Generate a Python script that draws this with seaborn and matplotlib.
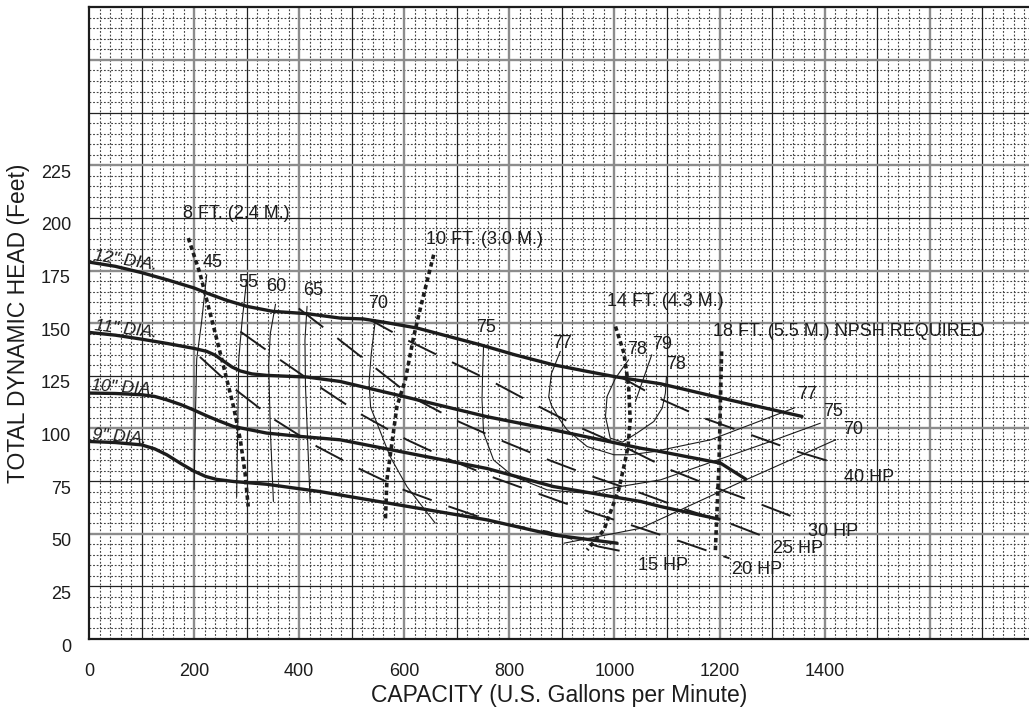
import numpy as np
import matplotlib
matplotlib.use("Agg")
import matplotlib.pyplot as plt
import matplotlib.transforms as mtrans
import seaborn as sns

# ---------------- data ----------------
# impeller diameter head curves: capacity (gpm) / head (ft)
dia12_gpm = [0, 50, 100, 150, 200, 224, 260, 300, 350, 415, 478, 522, 560, 624, 680, 745, 810, 884, 950, 1005, 1088, 1204, 1357]
dia12_ft = [179, 177, 174, 170.5, 166.7, 164.3, 161, 158, 155.6, 154.5, 152.4, 152, 150.5, 147.7, 144, 139.7, 135, 130.2, 127, 124.4, 121.2, 114.4, 105.7]
dia11_gpm = [0, 50, 100, 150, 200, 224, 240, 256, 272, 288, 310, 338, 415, 478, 598, 757, 884, 1050, 1088, 1202, 1250]
dia11_ft = [145.6, 144.3, 142.4, 140.3, 138, 136.6, 134.8, 132, 129.2, 127.3, 125.9, 125.2, 124.4, 122.3, 115.2, 105.6, 99.3, 90.6, 89, 83.5, 75.9]
dia10_gpm = [0, 50, 100, 125, 148, 175, 199, 222, 243, 275, 338, 402, 478, 757, 884, 1050, 1088, 1199]
dia10_ft = [116.8, 116.6, 116, 115.2, 113.6, 111.3, 108.8, 106.2, 104, 100.9, 97.8, 96.2, 94.6, 81, 72.4, 65.3, 62.9, 56.9]
dia9_gpm = [0, 50, 100, 125, 148, 175, 199, 222, 243, 275, 338, 440, 478, 757, 884, 1005]
dia9_ft = [93.8, 93.3, 92.2, 90.3, 87.5, 83.3, 79.8, 77.2, 75.8, 74.8, 73.5, 70, 68.4, 56.6, 49.4, 45.5]
dia_labels = ['12" DIA.', '11" DIA.', '10" DIA.', '9" DIA.']
dia_label_gpm = [70, 70, 65, 58]
dia_label_ft = [179.5, 147.2, 119.5, 95.9]

# horsepower lines
hp15_gpm = [211, 281, 354, 434, 513, 599, 684, 772, 872, 970, 1018]
hp15_ft = [134, 118, 104, 91.4, 81, 70.8, 63, 55.5, 51, 43.9, 41.5]
hp20_gpm = [288, 367, 440, 519, 605, 688, 773, 862, 951, 1040, 1126, 1219]
hp20_ft = [146, 132, 119.5, 106.5, 94.6, 85, 76.4, 68.4, 60.5, 53.4, 46.3, 38.3]
hp25_gpm = [399, 472, 545, 618, 703, 789, 875, 960, 1050, 1138, 1227, 1284]
hp25_ft = [157, 143, 128.7, 114.4, 103.3, 93.8, 85, 77, 69.3, 61.3, 54.2, 48.7]
hp30_gpm = [535, 605, 688, 773, 856, 938, 1024, 1107, 1195, 1281, 1338]
hp30_ft = [151.6, 142, 131.8, 121.5, 110.4, 100, 90.6, 80.3, 71.6, 63.7, 58.2]
hp40_gpm = [1015, 1084, 1170, 1259, 1348, 1405]
hp40_ft = [124, 114.4, 104.9, 97, 89, 84.7]
hp_labels = ["15 HP", "20 HP", "25 HP", "30 HP", "40 HP"]
hp_label_gpm = [1093, 1272, 1350, 1416, 1484]
hp_label_ft = [34.7, 33.1, 43.1, 51, 76.9]

# efficiency curves (%)
eff45_gpm = [224, 214, 205, 202, 200]
eff45_ft = [173, 150, 133, 100, 71]
eff55_gpm = [300, 291, 285, 283, 281]
eff55_ft = [170.6, 150, 133, 100, 67.6]
eff60_gpm = [355, 345, 342, 345, 351]
eff60_ft = [159, 145, 130, 100, 65.3]
eff65_gpm = [415, 411, 412, 416, 421]
eff65_ft = [158, 142, 120, 95, 64.6]
eff70a_gpm = [545, 537, 533, 536, 548, 573, 605, 659]
eff70a_ft = [151.6, 135, 122, 110, 102.5, 86.7, 72.4, 55]
eff70b_gpm = [904, 1050, 1233, 1421]
eff70b_ft = [45.5, 52.6, 73.7, 94.6]
eff75_gpm = [751, 749, 748, 751, 770, 808, 872, 948, 1011, 1050, 1088, 1297, 1392]
eff75_ft = [139.7, 125, 113.6, 97.8, 85, 77.2, 70.8, 69.2, 72.4, 74, 75.6, 93.8, 102.5]
eff77_gpm = [897, 880, 875, 880, 895, 910, 948, 999, 1030, 1075, 1183, 1342]
eff77_ft = [136.6, 126, 115, 111, 104.5, 99.3, 91.4, 87.5, 87.5, 89, 94.6, 109.7]
eff78_gpm = [1027, 1002, 986, 983, 992, 1015, 1043, 1075, 1091, 1097, 1099]
eff78_ft = [132.6, 123.9, 115.2, 105.6, 95.4, 93.5, 97.8, 103.3, 109.7, 116.8, 124.7]
eff79_gpm = [1071, 1040]
eff79_ft = [135, 112.8]
eff_labels = ["45", "55", "60", "65", "70", "75", "77", "78", "79", "78", "77", "75", "70"]
eff_label_gpm = [236, 303, 357, 426, 551, 756, 900, 1043, 1090, 1117, 1366, 1417, 1455]
eff_label_ft = [178.9, 169.3, 167.4, 165.5, 159.5, 147.7, 140.5, 137.4, 139.7, 130.2, 116, 108, 99.3]

# NPSH required lines
npsh8_gpm = [189, 211, 237, 253, 275, 288, 297, 303]
npsh8_ft = [190.4, 173.8, 148.4, 132.6, 110.4, 94.6, 78.8, 62.9]
npsh10_gpm = [656, 633, 618, 602, 586, 567, 564]
npsh10_ft = [182.5, 159.5, 143.7, 123, 110.4, 75.6, 55.8]
npsh14_gpm = [1002, 1018, 1027, 1030, 1026, 1018, 1008, 980, 948]
npsh14_ft = [148.4, 135.8, 120, 104, 91.4, 81.9, 70.8, 51.8, 42.3]
npsh18_gpm = [1204, 1199, 1192]
npsh18_ft = [136.6, 83.5, 41.5]
npsh_labels = ["8 FT. (2.4 M.)", "10 FT. (3.0 M.)", "14 FT. (4.3 M.)", "18 FT. (5.5 M.) NPSH REQUIRED"]
npsh_label_gpm = [178, 642, 985, 1187]
npsh_label_ft = [202, 189.6, 160.3, 146]

x_ticks = [0, 200, 400, 600, 800, 1000, 1200, 1400]
y_ticks = [0, 25, 50, 75, 100, 125, 150, 175, 200, 225]
y_gray_major = [50, 100, 150, 175, 225, 275]
y_black_major = [25, 75, 125, 200, 250]

# ---------------- style ----------------
sns.set_theme(style="white")
plt.rcParams["font.family"] = ["Liberation Sans", "DejaVu Sans"]
plt.rcParams["lines.scale_dashes"] = False
INK = "#1c1c1c"

fig = plt.figure(figsize=(10.29, 7.11), dpi=100)
ax = fig.add_axes([89 / 1029, 1 - 639 / 711, 940 / 1029, (639 - 7.3) / 711])
ax.set_xlim(0, 1789)
ax.set_ylim(0, 300)

# graph-paper grid
xmin = [v for v in range(20, 1789, 20) if v % 100]
ymin = [v for v in range(5, 300, 5) if v % 25]
ax.vlines(xmin, 0, 300, colors="#444444", linewidth=0.8, linestyles=[(0, (1.3, 1.3))], zorder=0.5)
ax.hlines(ymin, 0, 1789, colors="#444444", linewidth=0.8, linestyles=[(0, (1.3, 1.3))], zorder=0.5)
for v in range(100, 1789, 100):
    if (v // 100) % 2 == 0:
        ax.axvline(v, color="#8c8c8c", linewidth=1.7, zorder=0.7)
    else:
        ax.axvline(v, color="#222222", linewidth=0.9, zorder=0.7)
for v in y_gray_major:
    ax.axhline(v, color="#8c8c8c", linewidth=1.7, zorder=0.7)
for v in y_black_major:
    ax.axhline(v, color="#222222", linewidth=0.9, zorder=0.7)

for s in ["left", "bottom", "top"]:
    ax.spines[s].set_color(INK)
    ax.spines[s].set_linewidth(1.6)
ax.spines["right"].set_visible(False)

# head curves
for gx, gy in [(dia12_gpm, dia12_ft), (dia11_gpm, dia11_ft), (dia10_gpm, dia10_ft), (dia9_gpm, dia9_ft)]:
    sns.lineplot(x=gx, y=gy, sort=False, estimator=None, color=INK, linewidth=2.4, ax=ax, zorder=4)

# efficiency curves
for gx, gy in [(eff45_gpm, eff45_ft), (eff55_gpm, eff55_ft), (eff60_gpm, eff60_ft), (eff65_gpm, eff65_ft),
               (eff70a_gpm, eff70a_ft), (eff70b_gpm, eff70b_ft), (eff75_gpm, eff75_ft), (eff77_gpm, eff77_ft),
               (eff78_gpm, eff78_ft), (eff79_gpm, eff79_ft)]:
    sns.lineplot(x=gx, y=gy, sort=False, estimator=None, color=INK, linewidth=0.8, ax=ax, zorder=3)

# horsepower lines (long dashes)
hp_offsets = [0, 0, 0, 3.8, 3.6]
for (gx, gy), off in zip([(hp15_gpm, hp15_ft), (hp20_gpm, hp20_ft), (hp25_gpm, hp25_ft),
                          (hp30_gpm, hp30_ft), (hp40_gpm, hp40_ft)], hp_offsets):
    ax.plot(gx, gy, color=INK, linewidth=1.4, linestyle=(off, (22.3, 12.8)), zorder=3)

# NPSH lines (heavy dotted)
for gx, gy in [(npsh8_gpm, npsh8_ft), (npsh10_gpm, npsh10_ft), (npsh14_gpm, npsh14_ft), (npsh18_gpm, npsh18_ft)]:
    ax.plot(gx, gy, color=INK, linewidth=2.6, linestyle=(0, (3.2, 2.4)), zorder=3.5)

# labels
rot = [-9, -7, -4, -5]
for t, gx, gy, r in zip(dia_labels, dia_label_gpm, dia_label_ft, rot):
    ax.text(gx, gy, t, fontsize=12.5, fontstyle="italic", ha="center", va="center",
            rotation=r, color=INK, zorder=5)
for t, gx, gy in zip(eff_labels, eff_label_gpm, eff_label_ft):
    ax.text(gx, gy, t, fontsize=13, ha="center", va="center", color=INK, zorder=5)
for t, gx, gy in zip(hp_labels, hp_label_gpm, hp_label_ft):
    ax.text(gx, gy, t, fontsize=13, ha="center", va="center", color=INK, zorder=5)
for t, gx, gy in zip(npsh_labels, npsh_label_gpm, npsh_label_ft):
    ax.text(gx, gy, t, fontsize=13, ha="left", va="center", color=INK, zorder=5)

# axes ticks and titles
ax.set_xticks(x_ticks)
ax.set_yticks(y_ticks)
ax.set_xticklabels([str(v) for v in x_ticks])
ax.set_yticklabels([str(v) for v in y_ticks])
ax.tick_params(axis="both", length=0, labelsize=13, colors=INK)
ax.tick_params(axis="x", pad=17)
ax.tick_params(axis="y", pad=13)
shift = mtrans.ScaledTranslation(0, -6 / 100, fig.dpi_scale_trans)
for lab in ax.get_yticklabels():
    lab.set_transform(lab.get_transform() + shift)
ax.grid(False)

ax.set_xlabel("CAPACITY (U.S. Gallons per Minute)", fontsize=16.5, color=INK)
ax.set_ylabel("TOTAL DYNAMIC HEAD (Feet)", fontsize=16.5, color=INK)
ax.xaxis.set_label_coords(0.5, -0.072)
ax.yaxis.set_label_coords(-0.063, 0.5)

fig.savefig("out.png", dpi=100)
